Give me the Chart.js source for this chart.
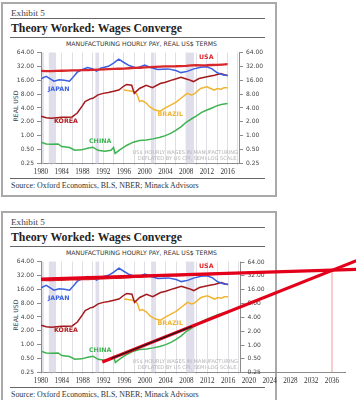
<!DOCTYPE html>
<html>
<head>
<meta charset="utf-8">
<script src="https://cdn.jsdelivr.net/npm/chart.js@4.4.1/dist/chart.umd.min.js"></script>
<style>
  body { margin: 0; width: 356px; height: 400px; background: #fff; position: relative; overflow: hidden; font-family: "DejaVu Sans", sans-serif; }
  .box { position: absolute; left: 1px; width: 276px; border: 2px solid #a9a9a9; box-sizing: border-box; }
  .t { position: absolute; white-space: nowrap; line-height: 1; }
  .rule { position: absolute; left: 10px; width: 255px; height: 1px; background: #666; }
  canvas { position: absolute; left: 0; }
</style>
</head>
<body>
<script>
// wages, real US$ per hour
const usaYears = [1980,1981,1982,1983,1984,1985,1986,1987,1988,1989,1990,1991,1992,1993,1994,1995,1996,1997,1998,1999,2000,2001,2002,2003,2004,2005,2006,2007,2008,2009,2010,2011,2012,2013,2014,2015,2016];
const usaWage = [25.5,25.3,25.4,25.6,25.8,26.0,26.3,26.4,26.5,26.7,27.0,27.3,27.6,27.9,28.2,28.5,28.8,29.2,29.7,30.0,30.4,30.8,31.4,31.8,32.0,32.2,32.3,32.6,33.0,33.8,34.0,33.8,34.0,34.4,34.7,35.2,35.8];

const japanYears = [1980,1981,1982.5,1983.5,1984.5,1985.5,1986,1987,1988,1989,1990,1990.7,1991.5,1993,1994,1995,1996,1997,1998.5,2000,2001,2002.5,2004.5,2006,2007,2008.2,2009.5,2010.8,2012,2013,2014,2015.3,2016];
const japanWage = [17.3,19.4,15.3,16.5,16,15.3,17.6,24,27.4,30.3,28.3,25.3,29.2,32.2,37.9,46,39,33.4,29.2,34.4,30.7,27.4,28.3,26,23.5,25,28.3,30.7,31.5,28.3,23.3,20.7,20.5];

const koreaYears = [1980,1981,1982,1983,1984,1985,1986,1987,1988,1988.5,1989.5,1990,1991,1992,1993,1994,1995,1996,1996.5,1997.5,1998,1999,2000.3,2001.5,2003,2004,2005.5,2007,2008.5,2009.4,2010.5,2012,2013.5,2014.7,2015.5,2016];
const koreaWage = [2.66,2.45,2.4,2.45,2.5,2.5,2.55,3.1,4.5,5.5,6.3,6.5,7.7,8.3,8.7,9.2,9.8,12,13,12.5,8.3,10.6,12.5,11,13.6,14.5,16.5,18.5,16.5,15,17.5,19,20.5,22.5,21,20];

const brazilYears = [1996,1997,1998,1998.5,1999,1999.5,2000.3,2001,2002,2003,2004,2005,2006,2007,2008.2,2009,2009.5,2010.8,2012,2013.4,2014,2014.7,2015.3,2016];
const brazilWage = [9.8,9.5,9,8,5.5,5.8,5.1,4.2,3.6,3.4,4.0,4.6,5.3,6.5,8.3,7.7,8,10.6,11.5,9.8,10.6,10.2,11,11];

const chinaYears = [1980,1981,1982,1983.3,1984,1985.5,1986.5,1987.8,1989,1990,1991,1992.3,1993.5,1994,1994.3,1995.2,1996.5,1997.8,1999,2000.3,2001.6,2003,2004,2005,2006,2007,2008,2009,2010,2011,2012,2013,2014,2015,2016];
const chinaWage = [0.72,0.66,0.65,0.66,0.58,0.55,0.48,0.49,0.53,0.56,0.48,0.46,0.48,0.55,0.41,0.49,0.61,0.72,0.78,0.8,0.85,0.92,1.0,1.12,1.3,1.55,1.95,2.3,2.7,3.2,3.6,4.0,4.5,4.8,5.0];

// hand-drawn trend lines on the lower copy
const usaTrendYears = [1980, 2040.7];
const usaTrendVals = [26.5, 43.4];
const chinaTrendYears = [1991.8, 2040.7];
const chinaTrendVals = [0.42, 67];
const chinaCoreYears = [1993.5, 2009];
const chinaCoreVals = [0.50, 2.5];
const crossYears = [2036, 2036];
const crossVals = [0.25, 41.5];

// US recessions (shaded)
const recessionStart = [1980.0, 1981.5, 1990.5, 2001.2, 2007.9];
const recessionEnd = [1980.55, 1982.9, 1991.2, 2001.9, 2009.5];

const yTicks = [0.25, 0.5, 1, 2, 4, 8, 16, 32, 64];
const xGridYears = [1980,1982,1984,1986,1988,1990,1992,1994,1996,1998,2000,2002,2004,2006,2008,2010,2012,2014,2016,2018];
const xExtraYears = [2020, 2024, 2028, 2032, 2036];
const plotEndYear = 2018.2;

Chart.defaults.font.family = '"DejaVu Sans", sans-serif';

function put(txt, x, cy, size, css, align) {
    const d = document.createElement('div');
    d.className = 't';
    d.textContent = txt;
    let tf = 'translate(0,-50%)';
    if (align === 'center') tf = 'translate(-50%,-50%)';
    if (align === 'right') tf = 'translate(-100%,-50%)';
    if (align === 'rot') tf = 'translate(-50%,-50%) rotate(-90deg)';
    d.style.cssText = `left:${x}px;top:${cy}px;font-size:${size}px;transform:${tf};` + css;
    document.body.appendChild(d);
}

function line(xs, ys, color, width, loose) {
    return {
        data: xs.map((x, i) => ({ x: x, y: ys[i] })),
        borderColor: color,
        borderWidth: width,
        pointRadius: 0,
        tension: 0,
        fill: false,
        clip: loose ? false : undefined
    };
}

const bandsPlugin = {
    id: 'bands',
    beforeDatasetsDraw(chart) {
        const { ctx, chartArea: a, scales: { x } } = chart;
        ctx.save();
        ctx.fillStyle = '#dfdeea';
        recessionStart.forEach((s, i) => {
            const x0 = Math.max(x.getPixelForValue(s), a.left + 1);
            const x1 = x.getPixelForValue(recessionEnd[i]);
            ctx.fillRect(x0, a.top, x1 - x0, a.bottom - a.top);
        });
        ctx.restore();
    }
};

// right-hand value axis for the extended copy, drawn at the old plot edge
const rightAxisPlugin = {
    id: 'rightAxis',
    beforeDatasetsDraw(chart) {
        const { ctx, chartArea: a, scales: { x, y } } = chart;
        const px = Math.round(x.getPixelForValue(plotEndYear)) + 0.5;
        ctx.save();
        ctx.strokeStyle = '#8c8c8c';
        ctx.lineWidth = 1;
        ctx.beginPath();
        ctx.moveTo(px, a.top);
        ctx.lineTo(px, a.bottom);
        ctx.stroke();
        ctx.font = '6px "DejaVu Sans"';
        ctx.fillStyle = '#444';
        ctx.textBaseline = 'middle';
        ctx.textAlign = 'left';
        yTicks.forEach(v => {
            const py = Math.round(y.getPixelForValue(v)) + 0.5;
            ctx.beginPath();
            ctx.moveTo(px, py);
            ctx.lineTo(px + 4, py);
            ctx.stroke();
            ctx.fillText(v.toFixed(2), px + 7, py);
        });
        ctx.restore();
    }
};

function yAxis(pos, w) {
    return {
        type: 'logarithmic',
        position: pos,
        min: 0.25,
        max: 64,
        afterBuildTicks: a => { a.ticks = yTicks.map(v => ({ value: v })); },
        afterFit: s => { s.width = w; },
        ticks: { autoSkip: false, padding: 3, font: { size: 6 }, color: '#444', callback: v => Number(v).toFixed(2) },
        grid: { drawOnChartArea: false, tickLength: 4, color: '#8c8c8c' },
        border: { color: '#8c8c8c' }
    };
}

function buildPanel(dy, extended) {
    const box = document.createElement('div');
    box.className = 'box';
    box.style.top = (2 + dy) + 'px';
    box.style.height = (extended ? 200 : 195) + 'px';
    document.body.appendChild(box);

    put('Exhibit 5', 11, 14 + dy, 9.2, 'font-family:"Liberation Serif";color:#444;');
    const r1 = document.createElement('div'); r1.className = 'rule'; r1.style.top = (18 + dy) + 'px'; document.body.appendChild(r1);
    put('Theory Worked: Wages Converge', 11, 28.5 + dy, 11.8, 'font-family:"Liberation Serif";font-weight:bold;color:#222;');
    const r2 = document.createElement('div'); r2.className = 'rule'; r2.style.top = (37 + dy) + 'px'; document.body.appendChild(r2);
    put('MANUFACTURING HOURLY PAY, REAL US$ TERMS', 141.5, 43.5 + dy, 6.2, 'color:#333;', 'center');
    put('REAL USD', 16, 106 + dy, 6.2, 'color:#444;', 'rot');
    const r3 = document.createElement('div'); r3.className = 'rule'; r3.style.top = (178 + dy) + 'px'; document.body.appendChild(r3);
    put('Source: Oxford Economics, BLS, NBER; Minack Advisors', 11, 185.5 + dy, 7.9, 'font-family:"Liberation Serif";color:#333;');

    const cv = document.createElement('canvas');
    cv.width = extended ? 356 : 278;
    cv.height = 132;
    cv.style.top = (46 + dy) + 'px';
    document.body.appendChild(cv);

    const sets = [];
    if (extended) {
        sets.push(line(chinaCoreYears, chinaCoreVals, '#1a1a1a', 1.2, true));
        sets.push(line(usaTrendYears, usaTrendVals, '#e3001b', 3.2, true));
        sets.push(line(chinaTrendYears, chinaTrendVals, '#e3001b', 3.2, true));
        sets.push(line(crossYears, crossVals, '#ee9a9a', 1, true));
    }
    sets.push(line(usaYears, usaWage, '#d9262a', 2.3));
    sets.push(line(japanYears, japanWage, '#3a5fe0', 1.5));
    sets.push(line(koreaYears, koreaWage, '#a3191c', 1.5));
    sets.push(line(brazilYears, brazilWage, '#f0b533', 1.5));
    sets.push(line(chinaYears, chinaWage, '#3fb352', 1.5));

    const scales = {
        x: {
            type: 'linear',
            min: 1980,
            max: extended ? 2038.5 : plotEndYear,
            afterBuildTicks: a => { a.ticks = (extended ? xGridYears.concat(xExtraYears) : xGridYears).map(v => ({ value: v })); },
            afterFit: s => { s.height = 14.7; },
            ticks: {
                autoSkip: false, maxRotation: 0, padding: 2,
                font: { family: '"Liberation Serif"', size: 7.2 }, color: '#333',
                callback: v => (v % 4 === 0 ? String(v) : '')
            },
            grid: { color: c => (c.tick && c.tick.value <= 2018.3 ? '#dedee4' : 'rgba(0,0,0,0)'), tickLength: 2 },
            border: { color: '#8c8c8c' }
        },
        y: yAxis('left', 41)
    };
    if (!extended) scales.y2 = yAxis('right', 39);

    new Chart(cv, {
        type: 'line',
        data: { datasets: sets },
        options: {
            responsive: false,
            animation: false,
            devicePixelRatio: 1,
            layout: { padding: { top: 4, right: extended ? 11 : 0, left: 0, bottom: 0 } },
            scales: scales,
            plugins: { legend: { display: false }, tooltip: { enabled: false } }
        },
        plugins: extended ? [bandsPlugin, rightAxisPlugin] : [bandsPlugin]
    });

    put('USA', 199, 56.5 + dy, 6.3, 'font-weight:bold;color:#e0262b;');
    put('JAPAN', 48, 89 + dy, 6.3, 'font-weight:bold;color:#3a5fe0;');
    put('BRAZIL', 157.5, 113.5 + dy, 6.3, 'font-weight:bold;color:#f0b533;');
    put('KOREA', 54, 121 + dy, 6.3, 'font-weight:bold;color:#b01c1f;');
    put('CHINA', 89, 140.7 + dy, 6.3, 'font-weight:bold;color:#3fb352;');
    put('US$ HOURLY WAGES IN MANUFACTURING', 238, 153.3 + dy, 5.1, 'color:#b4b4b4;', 'right');
    put('DEFLATED BY US CPI, SEMI-LOG SCALE.', 238, 158.6 + dy, 5.1, 'color:#b4b4b4;', 'right');
}

buildPanel(0, false);
buildPanel(209, true);
</script>
</body>
</html>
